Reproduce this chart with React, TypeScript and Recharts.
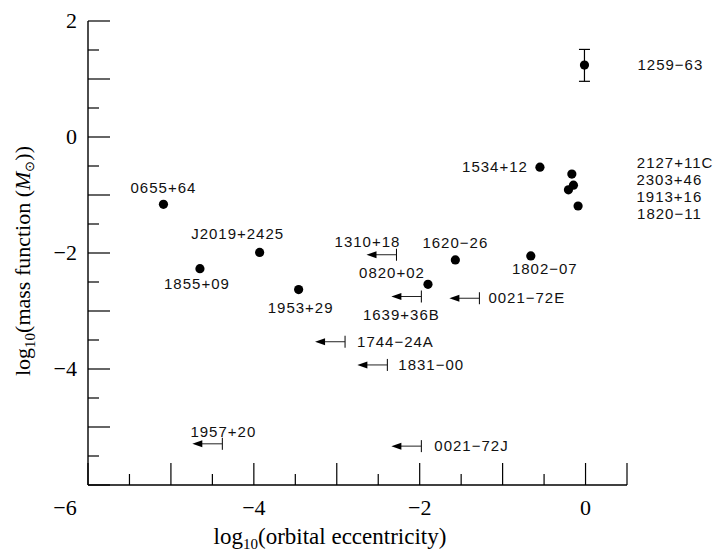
import React from 'react'
import { ScatterChart, Scatter, XAxis, YAxis, ErrorBar, Label } from 'recharts'

// measured systems (filled circles)
const pointNames = [
  '0655+64', 'J2019+2425', '1855+09', '1953+29', '0820+02', '1620−26', '1802−07',
  '1534+12', '2127+11C', '2303+46', '1913+16', '1820−11',
]
const pointEcc = [-5.09, -3.93, -4.65, -3.46, -1.9, -1.57, -0.66, -0.55, -0.165, -0.146, -0.206, -0.09]
const pointMass = [-1.16, -1.99, -2.27, -2.63, -2.54, -2.12, -2.05, -0.52, -0.64, -0.83, -0.91, -1.19]

// 1259-63 with its error bar
const errNames = ['1259−63']
const errEcc = [-0.013]
const errMass = [1.24]
const errRange = [[0.28, 0.27]]

// upper limits on eccentricity (arrows)
const limitNames = ['1310+18', '1639+36B', '0021−72E', '1744−24A', '1831−00', '1957+20', '0021−72J']
const limitEcc = [-2.28, -1.98, -1.28, -2.9, -2.39, -4.38, -1.98]
const limitMass = [-2.03, -2.75, -2.78, -3.53, -3.93, -5.29, -5.33]

const xTicks = [-6, -5.5, -5, -4.5, -4, -3.5, -3, -2.5, -2, -1.5, -1, -0.5, 0, 0.5]
const yTicks = [-6, -5.5, -5, -4.5, -4, -3.5, -3, -2.5, -2, -1.5, -1, -0.5, 0, 0.5, 1, 1.5, 2]
const xLabels = [-6, -4, -2, 0]
const yLabels = [-4, -2, 0, 2]

// label placement relative to the marker (px)
const LABEL_POS: Record<string, { dx: number; dy: number; anchor: 'start' | 'middle' | 'end' }> = {
  '0655+64': { dx: 0, dy: -16, anchor: 'middle' },
  'J2019+2425': { dx: -22, dy: -18, anchor: 'middle' },
  '1855+09': { dx: -3, dy: 15, anchor: 'middle' },
  '1953+29': { dx: 2, dy: 18, anchor: 'middle' },
  '0820+02': { dx: -36, dy: -11, anchor: 'middle' },
  '1620−26': { dx: 0, dy: -17, anchor: 'middle' },
  '1802−07': { dx: 14, dy: 13, anchor: 'middle' },
  '1534+12': { dx: -12, dy: 0, anchor: 'end' },
  '2127+11C': { dx: 65, dy: -11, anchor: 'start' },
  '2303+46': { dx: 63, dy: -5, anchor: 'start' },
  '1913+16': { dx: 68, dy: 7, anchor: 'start' },
  '1820−11': { dx: 59, dy: 8, anchor: 'start' },
  '1259−63': { dx: 53, dy: 0, anchor: 'start' },
  '1310+18': { dx: -29, dy: -13, anchor: 'middle' },
  '1639+36B': { dx: -20, dy: 18, anchor: 'middle' },
  '0021−72E': { dx: 9, dy: 0, anchor: 'start' },
  '1744−24A': { dx: 12, dy: 0, anchor: 'start' },
  '1831−00': { dx: 11, dy: 0, anchor: 'start' },
  '1957+20': { dx: 1, dy: -12, anchor: 'middle' },
  '0021−72J': { dx: 13, dy: 0, anchor: 'start' },
}

const points = pointNames.map((name, i) => ({ name, x: pointEcc[i], y: pointMass[i] }))
const errPoints = errNames.map((name, i) => ({ name, x: errEcc[i], y: errMass[i], err: errRange[i] }))
const limits = limitNames.map((name, i) => ({ name, x: limitEcc[i], y: limitMass[i] }))

const SANS = '"Liberation Sans", Arial, sans-serif'
const SERIF = '"Liberation Serif", "Times New Roman", serif'
const fmt = (v: number) => (v < 0 ? `−${Math.abs(v)}` : `${v}`)

function NameText({ cx, cy, name }: { cx: number; cy: number; name: string }) {
  const p = LABEL_POS[name] || { dx: 10, dy: 0, anchor: 'start' }
  return (
    <text
      x={cx + p.dx}
      y={cy + p.dy + 5}
      textAnchor={p.anchor}
      fontFamily={SANS}
      fontSize={15}
      letterSpacing={1}
      fill="#111"
    >
      {name}
    </text>
  )
}

const DotShape = (props: any) => {
  const { cx, cy, payload } = props
  return (
    <g>
      <circle cx={cx} cy={cy} r={4.6} fill="#000" />
      <NameText cx={cx} cy={cy} name={payload.name} />
    </g>
  )
}

const LimitShape = (props: any) => {
  const { cx, cy, payload } = props
  const tip = cx - 30
  return (
    <g>
      <line x1={cx} y1={cy - 6} x2={cx} y2={cy + 6} stroke="#000" strokeWidth={1} />
      <line x1={cx} y1={cy} x2={tip + 8} y2={cy} stroke="#222" strokeWidth={1} />
      <polygon points={`${tip},${cy} ${tip + 10},${cy - 3.5} ${tip + 10},${cy + 3.5}`} fill="#000" />
      <NameText cx={cx} cy={cy} name={payload.name} />
    </g>
  )
}

const XTick = (props: any) => {
  const { x, y, payload } = props
  const v = payload.value
  const len = Number.isInteger(v) || v === 0.5 ? 22 : 11
  return (
    <g>
      <line x1={x} y1={y} x2={x} y2={y - len} stroke="#000" strokeWidth={1.2} />
      {xLabels.includes(v) && (
        <text x={x + (v === -6 ? -23 : 0)} y={y + 30} textAnchor="middle" fontFamily={SERIF} fontSize={22} fill="#000">
          {fmt(v)}
        </text>
      )}
    </g>
  )
}

const YTick = (props: any) => {
  const { x, y, payload } = props
  const v = payload.value
  const len = Number.isInteger(v) ? 22 : 11
  return (
    <g>
      <line x1={x} y1={y} x2={x + len} y2={y} stroke="#000" strokeWidth={1.2} />
      {yLabels.includes(v) && (
        <text x={x - 11} y={y + 7} textAnchor="end" fontFamily={SERIF} fontSize={22} fill="#000">
          {fmt(v)}
        </text>
      )}
    </g>
  )
}

const XTitle = (props: any) => {
  const { viewBox } = props
  return (
    <text x={330} y={viewBox.y + 59} textAnchor="middle" fontFamily={SERIF} fontSize={23} fill="#000">
      <tspan>log</tspan>
      <tspan fontSize={15} dy={5}>10</tspan>
      <tspan dy={-5}>(orbital eccentricity)</tspan>
    </text>
  )
}

const YTitle = (props: any) => {
  const { viewBox } = props
  const cy = viewBox.y + viewBox.height / 2 + 8
  const cx = 30
  return (
    <text
      x={cx}
      y={cy}
      transform={`rotate(-90 ${cx} ${cy})`}
      textAnchor="middle"
      fontFamily={SERIF}
      fontSize={22}
      fill="#000"
    >
      <tspan>log</tspan>
      <tspan fontSize={15} dy={5}>10</tspan>
      <tspan dy={-5}>(mass function (</tspan>
      <tspan fontStyle="italic">M</tspan>
      <tspan fontSize={13} dy={4}>⊙</tspan>
      <tspan dy={-4}>))</tspan>
    </text>
  )
}

export default function App() {
  return (
    <div style={{ position: 'absolute', left: 0, top: 0, width: 714, height: 554, background: '#fff' }}>
      <ScatterChart width={714} height={554} margin={{ top: 21, right: 87, bottom: 0, left: 0 }}>
        <XAxis
          type="number"
          dataKey="x"
          domain={[-6, 0.5]}
          ticks={xTicks}
          interval={0}
          height={69}
          tickSize={0}
          tickMargin={0}
          tickLine={false}
          tick={<XTick />}
          axisLine={{ stroke: '#000', strokeWidth: 1.4 }}
        >
          <Label content={<XTitle />} />
        </XAxis>
        <YAxis
          type="number"
          dataKey="y"
          domain={[-6, 2]}
          ticks={yTicks}
          interval={0}
          width={88}
          tickSize={0}
          tickMargin={0}
          tickLine={false}
          tick={<YTick />}
          axisLine={{ stroke: '#000', strokeWidth: 1.4 }}
        >
          <Label content={<YTitle />} />
        </YAxis>
        <Scatter data={points} shape={<DotShape />} isAnimationActive={false} />
        <Scatter data={limits} shape={<LimitShape />} isAnimationActive={false} />
        <Scatter data={errPoints} shape={<DotShape />} isAnimationActive={false}>
          <ErrorBar dataKey="err" direction="y" width={5.5} stroke="#000" strokeWidth={1.2} />
        </Scatter>
      </ScatterChart>
    </div>
  )
}
